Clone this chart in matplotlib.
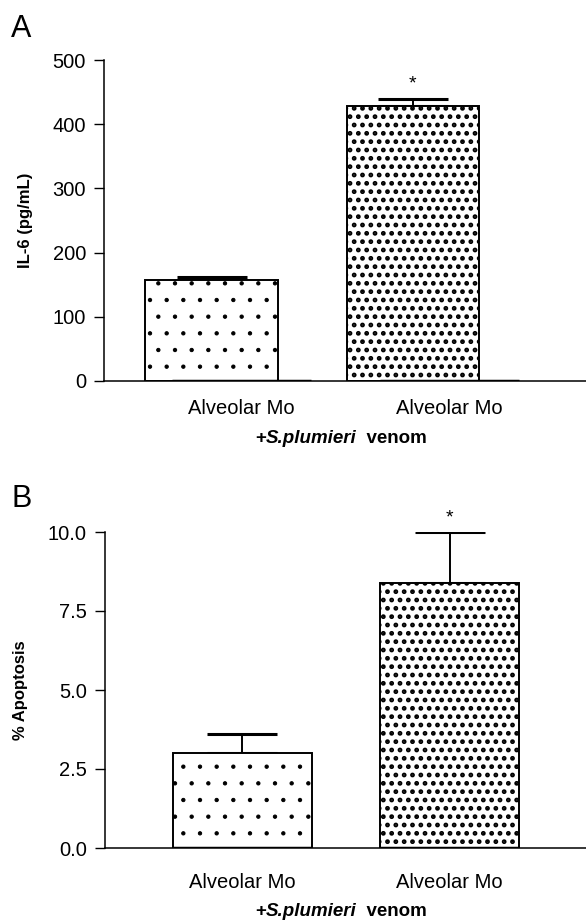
import numpy as np
import matplotlib
matplotlib.use("Agg")
from matplotlib import pyplot as plt

matplotlib.rcParams['font.family'] = ['Liberation Sans', 'DejaVu Sans']
matplotlib.rcParams['hatch.color'] = 'black'

groups = ['Alveolar Mo', 'Alveolar Mo']
hatches = ['.', '..']
hatch_lw = [0.7, 2.2]
signif = [False, True]

il6_mean = [158, 428]
il6_err = [4, 12]
il6_ticks = [0, 100, 200, 300, 400, 500]

apo_mean = [3.0, 8.4]
apo_err = [0.6, 1.6]
apo_ticks = [0.0, 2.5, 5.0, 7.5, 10.0]

# x label pieces: upright, italic, upright
xlab_parts = [('+', 'normal'), ('S.plumieri', 'italic'), ('  venom', 'normal')]

W, H = 586, 923
fig = plt.figure(figsize=(W / 100, H / 100), dpi=100)
renderer = fig.canvas.get_renderer()


def xlabel(cx, base):
    texts = [fig.text(0, 1 - base / H, s, fontsize=13.5, fontweight='bold',
                      fontstyle=st, va='baseline', ha='left') for s, st in xlab_parts]
    widths = [t.get_window_extent(renderer).width for t in texts]
    x0 = cx - sum(widths) / 2
    for t, w in zip(texts, widths):
        t.set_x(x0 / W)
        x0 += w


def panel(rect, means, errs, ticks, ylabel, fmt, shift, width, letter, lpos, tpad, lab):
    l, t, r, b = rect
    ax = fig.add_axes([l / W, 1 - b / H, (r - l) / W, (b - t) / H])
    x = np.arange(len(means))
    xb = x + np.asarray(shift)
    for i in range(len(means)):
        matplotlib.rcParams['hatch.linewidth'] = hatch_lw[i]
        bars = ax.bar(xb[i], means[i], width, color='white', edgecolor='black',
                      hatch=hatches[i], linewidth=1.4, zorder=2)
        for p in bars:
            if hasattr(p, 'set_hatch_linewidth'):
                p.set_hatch_linewidth(hatch_lw[i])
    ax.errorbar(xb, means, yerr=[np.zeros(len(errs)), errs], fmt='none',
                ecolor='black', elinewidth=1.4, capsize=25, capthick=2.2, zorder=1)
    # bottom edge of bars sits on the axis
    ax.hlines(np.zeros(len(x)), x - 0.335, x + 0.335, color='black', lw=2.5, zorder=3)
    for xi, m, e, s in zip(xb, means, errs, signif):
        if s:
            ax.annotate('*', (xi, m + e), xytext=(0, 4), textcoords='offset points',
                        ha='center', va='bottom', fontsize=14)
    ax.set_xlim(-0.664, 1.659)
    ax.set_ylim(ticks[0], ticks[-1])
    ax.set_yticks(ticks)
    ax.set_yticklabels([fmt % v for v in ticks])
    ax.set_xticks(x)
    ax.set_xticklabels(groups)
    ax.tick_params(axis='y', length=7, width=1, pad=6, labelsize=14.5)
    ax.tick_params(axis='x', length=0, pad=tpad, labelsize=14.5)
    for s in ['top', 'right']:
        ax.spines[s].set_visible(False)
    ax.spines['left'].set_linewidth(1.1)
    ax.spines['bottom'].set_linewidth(1.1)
    ax.set_ylabel(ylabel, fontsize=12, fontweight='bold', labelpad=14)
    xlabel(341, lab)
    fig.text(lpos[0] / W, 1 - lpos[1] / H, letter, fontsize=22, va='baseline')
    return ax


axA = panel((104, 60, 586, 381), il6_mean, il6_err, il6_ticks, 'IL-6 (pg/mL)', '%d',
            [-0.145, -0.175], 0.64, 'A', (11, 37), 13, 443)
axB = panel((105, 532, 586, 848), apo_mean, apo_err, apo_ticks, '% Apoptosis', '%.1f',
            [0.0, 0.0], 0.67, 'B', (11, 507), 18, 916)

fig.savefig('out.png', dpi=100)
